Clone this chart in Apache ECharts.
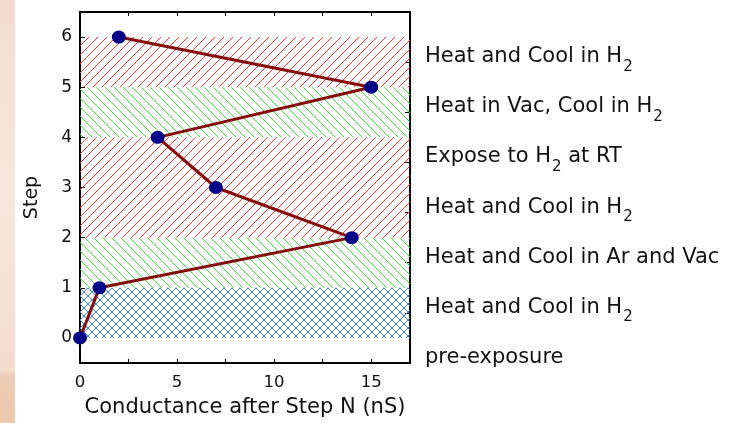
<!DOCTYPE html>
<html>
<head>
<meta charset="utf-8">
<script src="https://cdn.jsdelivr.net/npm/echarts/dist/echarts.min.js"></script>
<style>
  html, body { margin: 0; padding: 0; background: #ffffff; }
  #chart { width: 730px; height: 423px; }
</style>
</head>
<body>
<div id="chart"></div>
<script>
// Conductance measured after each processing step
const steps = [0, 1, 2, 3, 4, 5, 6];
const conductance = [0, 1, 14, 7, 4, 15, 2];

// What was done at each step (index = step number)
const stepNotes = [
  'pre-exposure',
  'Heat and Cool in H₂',
  'Heat and Cool in Ar and Vac',
  'Heat and Cool in H₂',
  'Expose to H₂ at RT',
  'Heat in Vac, Cool in H₂',
  'Heat and Cool in H₂'
];

// Hatched step bands
const bandFrom = [0, 1, 2, 4, 5];
const bandTo = [1, 2, 4, 5, 6];
const bandHatch = ['cross', 'back', 'fwd', 'back', 'fwd'];
const bandColor = ['#3d80d4', '#3ae63a', '#ff3535', '#3ae63a', '#ff3535'];
const bandPeriod = [8, 9, 9, 9, 9];

// Axis ticks and labels
const xTicks = [0, 2.5, 5, 7.5, 10, 12.5, 15];
const xLabels = [0, 5, 10, 15];
const yTicks = [0, 1, 2, 3, 4, 5, 6];

const FONT = 'DejaVu Sans';

// Small repeating canvas tile with crisp one-pixel 45° hatch lines
function hatchTile(kind, color, p) {
  const c = document.createElement('canvas');
  c.width = p; c.height = p;
  const g = c.getContext('2d');
  g.clearRect(0, 0, p, p);
  g.fillStyle = color;
  for (let i = 0; i < p; i++) {
    if (kind === 'fwd' || kind === 'cross') g.fillRect(i, p - 1 - i, 1, 1);
    if (kind === 'back' || kind === 'cross') g.fillRect(i, i, 1, 1);
  }
  return c;
}

// Turn "H₂" into rich text with a lowered subscript
function richNote(s) {
  const parts = s.split('₂');
  let out = '';
  parts.forEach((p, i) => {
    if (p.length) out += '{t|' + p + '}';
    if (i < parts.length - 1) out += '{s|2}';
  });
  return out;
}

const bandAreas = bandFrom.map((f, i) => [
  {
    yAxis: f,
    itemStyle: {
      color: { image: hatchTile(bandHatch[i], bandColor[i], bandPeriod[i]), repeat: 'repeat' },
      opacity: 1
    }
  },
  { yAxis: bandTo[i] }
]);

const axisLineStyle = { color: '#000', width: 2 };

const chart = echarts.init(document.getElementById('chart'), null, { renderer: 'canvas' });

chart.setOption({
  animation: false,
  backgroundColor: '#ffffff',
  textStyle: { fontFamily: FONT },
  graphic: [{
    type: 'rect',
    left: 0, top: 0, z: -10,
    shape: { width: 15, height: 423 },
    style: {
      fill: new echarts.graphic.LinearGradient(0, 0, 0, 1, [
        { offset: 0, color: '#f3dccd' },
        { offset: 0.45, color: '#f8e7dd' },
        { offset: 0.875, color: '#f4dccd' },
        { offset: 0.89, color: '#eccbb5' },
        { offset: 1, color: '#efc8ab' }
      ])
    },
    silent: true
  }],
  grid: { left: 80, top: 12, right: 320, bottom: 56, containLabel: false },
  xAxis: [
    {
      type: 'value', position: 'bottom', min: 0, max: 17,
      axisLine: { onZero: false, lineStyle: axisLineStyle },
      axisTick: { inside: true, length: 4, customValues: xTicks, lineStyle: { color: '#000', width: 1 } },
      axisLabel: { customValues: xLabels, margin: 11, fontSize: 16.5, color: '#111', fontFamily: FONT },
      splitLine: { show: false },
      name: 'Conductance after Step N (nS)',
      nameLocation: 'middle', nameGap: 34,
      nameTextStyle: { fontSize: 21, color: '#111', fontFamily: FONT }
    },
    {
      type: 'value', position: 'top', min: 0, max: 17,
      axisLine: { onZero: false, lineStyle: axisLineStyle },
      axisTick: { inside: true, length: 4, customValues: xTicks, lineStyle: { color: '#000', width: 1 } },
      axisLabel: { show: false },
      splitLine: { show: false }
    }
  ],
  yAxis: [
    {
      type: 'value', position: 'left', min: -0.5, max: 6.5,
      axisLine: { onZero: false, lineStyle: axisLineStyle },
      axisTick: { inside: true, length: 5, customValues: yTicks, lineStyle: { color: '#000', width: 1 } },
      axisLabel: { customValues: yTicks, margin: 8, fontSize: 17, color: '#111', fontFamily: FONT },
      splitLine: { show: false },
      name: 'Step',
      nameLocation: 'middle', nameGap: 38, nameRotate: 90,
      nameTextStyle: { fontSize: 19, color: '#111', fontFamily: FONT, padding: [0, 20, 0, 0] }
    },
    {
      type: 'value', position: 'right', min: -0.5, max: 6.5,
      axisLine: { onZero: false, lineStyle: axisLineStyle },
      axisTick: { inside: true, length: 5, customValues: steps.slice(1).map(s => s - 0.5), lineStyle: { color: '#000', width: 1 } },
      axisLabel: {
        customValues: steps.map(s => s - 0.5),
        margin: 15,
        padding: [0, 0, 8, 0],
        formatter: v => richNote(stepNotes[Math.round(v + 0.5)]),
        rich: {
          t: { fontSize: 21, lineHeight: 24, padding: [0, 0, 3.5, 0], verticalAlign: 'top', color: '#111', fontFamily: FONT },
          s: { fontSize: 15, lineHeight: 11, padding: [13, 0, 0, 1], verticalAlign: 'top', color: '#111', fontFamily: FONT }
        }
      },
      splitLine: { show: false }
    }
  ],
  series: [
    {
      type: 'line',
      data: [],
      xAxisIndex: 0, yAxisIndex: 0,
      z: 1,
      silent: true,
      markArea: { silent: true, label: { show: false }, data: bandAreas }
    },
    {
      type: 'line',
      xAxisIndex: 0, yAxisIndex: 0,
      z: 3,
      clip: false,
      data: steps.map((s, i) => [conductance[i], s]),
      symbol: 'circle',
      symbolSize: [14, 13],
      showAllSymbol: true,
      itemStyle: { color: '#000088' },
      lineStyle: { color: '#850a0a', width: 3 },
      emphasis: { disabled: true }
    }
  ]
});
</script>
</body>
</html>
